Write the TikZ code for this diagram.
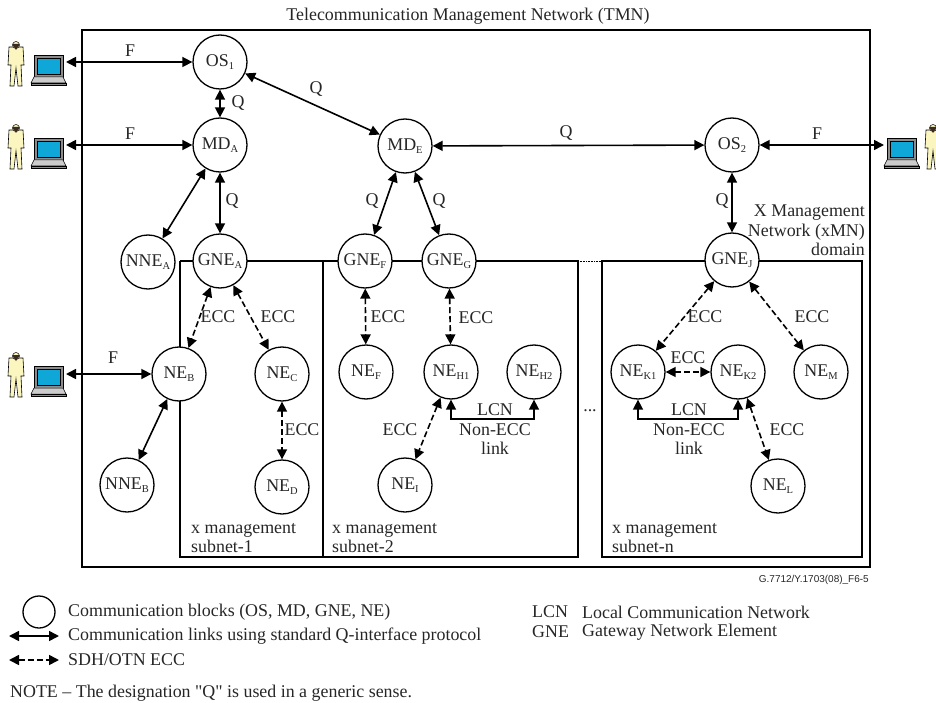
\documentclass[tikz,border=0pt]{standalone}
\usepackage{fontspec}
\setmainfont{Liberation Serif}
\newfontfamily\reffont{Liberation Sans}
\newfontfamily\notefont{Liberation Serif}
\usepackage{tikz}
\usetikzlibrary{arrows.meta}

\definecolor{screenblue}{HTML}{0FA6D8}
\definecolor{skincream}{HTML}{FBF6C0}
\definecolor{caselaptop}{HTML}{8C8C8C}
\definecolor{hairdark}{HTML}{3A2A20}
\newcommand{\sbs}[1]{\raisebox{-3.5pt}{\fontsize{10.5}{11}\selectfont #1}}

\tikzset{
	block/.style={circle,draw,line width=1.3pt,fill=white,minimum size=54pt,inner sep=0pt,text=black!85,font=\fontsize{17.9}{20}\selectfont},
	label/.style={inner sep=0pt,text=black!85,font=\fontsize{17.9}{19.5}\selectfont},
	qlink/.style={line width=1.6pt,{Triangle[length=10pt,width=10pt]}-{Triangle[length=10pt,width=10pt]}},
	ecclink/.style={qlink,dash pattern=on 6pt off 3pt},
	frame/.style={line width=1.3pt},
	person/.pic={
		\fill[skincream,draw=black,line width=0.6pt] (-7,-15) -- (7,-15) -- (8,3) -- (5,3) -- (6,24) -- (2,24) -- (0,6) -- (-2,24) -- (-6,24) -- (-5,3) -- (-8,3) -- cycle;
		\fill[skincream,draw=black,line width=0.5pt] (0,-17) circle (3.5);
		\fill[hairdark] (-3.5,-18) arc (180:0:3.5 and 3.5) -- cycle;
		\fill[hairdark] (-2,-15) -- (2,-15) -- (0,-12) -- cycle;
	},
	laptop/.pic={
		\fill[caselaptop,draw=black,line width=0.5pt] (3,-7) rectangle (32,15);
		\fill[screenblue,draw=black,line width=0.4pt] (6,-4) rectangle (29,12);
		\fill[white!80!black,draw=black,line width=0.5pt] (3,15) -- (32,15) -- (35,21) -- (0,21) -- cycle;
		\fill[caselaptop,draw=black,line width=0.4pt] (0,21) rectangle (35,23);
	},
}

\begin{document}
\begin{tikzpicture}[x=1pt,y=-1pt]
	\clip (0,0) rectangle (936,703);

	\draw[frame] (82,30) rectangle (870,567);
	\draw[frame] (180,261) -- (180,557) -- (323,557) -- (323,261);
	\draw[frame] (180,261) -- (365,261) -- (578,261) -- (578,557) -- (323,557);
	\draw[frame] (602,557) -- (602,261) -- (862,261) -- (862,557) -- cycle;
	\draw[line width=0.6pt,densely dotted] (578,261) -- (602,261);

	\pic at (16,62) {person};
	\pic at (31,62) {laptop};
	\pic at (16,145) {person};
	\pic at (31,145) {laptop};
	\pic at (16,373) {person};
	\pic at (31,373) {laptop};
	\pic at (884,145) {laptop};
	\pic at (933,145) {person};

	\coordinate (PC1) at (66,62);
	\coordinate (PC2) at (66,145);
	\coordinate (PC3) at (66,374);
	\coordinate (PC4) at (884,145);
	\coordinate (LCN1) at (492,419);
	\coordinate (LCN2) at (688,419);
	\coordinate (KEY1a) at (9,636);
	\coordinate (KEY1b) at (59,636);
	\coordinate (KEY2a) at (9,660);
	\coordinate (KEY2b) at (59,660);

	\node[block] (OS1) at (220,62) {OS\sbs{1}};
	\node[block] (MDA) at (220,145) {MD\sbs{A}};
	\node[block] (NNEA) at (148,262) {NNE\sbs{A}};
	\node[block] (GNEA) at (220,261) {GNE\sbs{A}};
	\node[block] (MDE) at (405,146) {MD\sbs{E}};
	\node[block] (GNEF) at (365,261) {GNE\sbs{F}};
	\node[block] (GNEG) at (449,261) {GNE\sbs{G}};
	\node[block] (OS2) at (732,145) {OS\sbs{2}};
	\node[block] (GNEJ) at (732,260) {GNE\sbs{J}};
	\node[block] (NEB) at (179,374) {NE\sbs{B}};
	\node[block] (NEC) at (282,374) {NE\sbs{C}};
	\node[block] (NED) at (282,487) {NE\sbs{D}};
	\node[block] (NNEB) at (127,485) {NNE\sbs{B}};
	\node[block] (NEF) at (366,372) {NE\sbs{F}};
	\node[block] (NEH1) at (451,372) {NE\sbs{H1}};
	\node[block] (NEH2) at (534,372) {NE\sbs{H2}};
	\node[block] (NEI) at (405,485) {NE\sbs{I}};
	\node[block] (NEK1) at (638,372) {NE\sbs{K1}};
	\node[block] (NEK2) at (738,372) {NE\sbs{K2}};
	\node[block] (NEM) at (821,372) {NE\sbs{M}};
	\node[block] (NEL) at (778,486) {NE\sbs{L}};
	\node[circle,draw,line width=1.3pt,minimum size=32pt,inner sep=0pt] (KEY0) at (39,612) {};

	\draw[qlink] (PC1) -- (OS1);
	\draw[qlink] (PC2) -- (MDA);
	\draw[qlink] (PC3) -- (NEB);
	\draw[qlink] (PC4) -- (OS2);
	\draw[qlink] (OS1) -- (MDA);
	\draw[qlink] (OS1) -- (MDE);
	\draw[qlink] (MDA) -- (GNEA);
	\draw[qlink] (MDA) -- (NNEA);
	\draw[qlink] (MDE) -- (OS2);
	\draw[qlink] (MDE) -- (GNEF);
	\draw[qlink] (MDE) -- (GNEG);
	\draw[qlink] (OS2) -- (GNEJ);
	\draw[qlink] (NEB) -- (NNEB);
	\draw[ecclink] (GNEA) -- (NEB);
	\draw[ecclink] (GNEA) -- (NEC);
	\draw[ecclink] (NEC) -- (NED);
	\draw[ecclink] (GNEF) -- (NEF);
	\draw[ecclink] (GNEG) -- (NEH1);
	\draw[ecclink] (NEH1) -- (NEI);
	\draw[qlink] (NEH1.south) |- (LCN1) -| (NEH2.south);
	\draw[ecclink] (GNEJ) -- (NEK1);
	\draw[ecclink] (GNEJ) -- (NEM);
	\draw[ecclink] (NEK1) -- (NEK2);
	\draw[ecclink] (NEK2) -- (NEL);
	\draw[qlink] (NEK1.south) |- (LCN2) -| (NEK2.south);
	\draw[qlink] (KEY1a) -- (KEY1b);
	\draw[ecclink] (KEY2a) -- (KEY2b);

	\node[label] (title) at (468,16) {Telecommunication Management Network (TMN)};
	\node[label] (f1) at (130,51) {F};
	\node[label] (f2) at (130,134) {F};
	\node[label] (f3) at (113,358) {F};
	\node[label] (f4) at (817,134) {F};
	\node[label] (q1) at (238,103) {Q};
	\node[label] (q2) at (232,201) {Q};
	\node[label] (q3) at (316,89) {Q};
	\node[label] (q4) at (372,201) {Q};
	\node[label] (q5) at (439,201) {Q};
	\node[label] (q6) at (566,133) {Q};
	\node[label] (q7) at (722,201) {Q};
	\node[label,align=right,anchor=north east] (xmn) at (865,205) {X Management\\Network (xMN)\\domain};
	\node[label] (e1) at (218,317) {ECC};
	\node[label] (e2) at (278,317) {ECC};
	\node[label] (e3) at (388,317) {ECC};
	\node[label] (e4) at (476,318) {ECC};
	\node[label] (e5) at (705,317) {ECC};
	\node[label] (e6) at (812,317) {ECC};
	\node[label] (e7) at (688,358) {ECC};
	\node[label] (e8) at (302,430) {ECC};
	\node[label] (e9) at (400,430) {ECC};
	\node[label] (e10) at (787,430) {ECC};
	\node[label] (lcn1) at (495,410) {LCN};
	\node[label,align=center,anchor=north] (non1) at (495,423) {Non-ECC\\link};
	\node[label] (lcn2) at (689,410) {LCN};
	\node[label,align=center,anchor=north] (non2) at (689,423) {Non-ECC\\link};
	\node[label] (dots) at (590,411) {...};
	\node[label,align=left,anchor=west] (sub1) at (191,538) {x management\\subnet-1};
	\node[label,align=left,anchor=west] (sub2) at (332,538) {x management\\subnet-2};
	\node[label,align=left,anchor=west] (subn) at (612,538) {x management\\subnet-n};
	\node[inner sep=0pt,anchor=east,text=black!85,font=\reffont\fontsize{10}{12}\selectfont] (ref) at (869,580) {G.7712/Y.1703(08)\_F6-5};

	\node[label,anchor=west] (key1) at (68,612) {Communication blocks (OS, MD, GNE, NE)};
	\node[label,anchor=west] (key2) at (68,636) {Communication links using standard Q-interface protocol};
	\node[label,anchor=west] (key3) at (68,660) {SDH/OTN ECC};
	\node[label,anchor=west] (note) at (10,693) {\notefont NOTE – The designation "Q" is used in a generic sense.};
	\node[label,anchor=west] (abbr1) at (532,612) {LCN};
	\node[label,anchor=west] (abbr2) at (582,612) {Local Communication Network};
	\node[label,anchor=west] (abbr3) at (532,632) {GNE};
	\node[label,anchor=west] (abbr4) at (582,632) {Gateway Network Element};
\end{tikzpicture}
\end{document}
